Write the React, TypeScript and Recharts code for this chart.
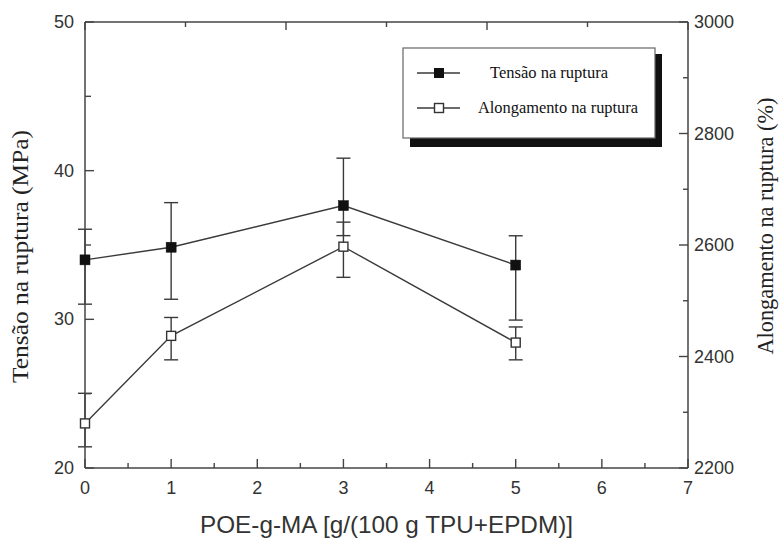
import React from 'react';
import { ComposedChart, Line, XAxis, YAxis, ErrorBar, Customized } from 'recharts';

// ---- data ----
const xValues = [0, 1, 3, 5];
const tensao = [34.0, 34.85, 37.65, 33.65];
const tensaoErr = [[2.98, 2.06], [3.5, 3.0], [2.02, 3.19], [3.7, 1.97]];
const alongamento = [2280, 2437, 2597, 2425];
const alongamentoErr = [[42, 54], [43, 33], [55, 44], [31, 28]];

const xTicks = [0, 0.5, 1, 1.5, 2, 2.5, 3, 3.5, 4, 4.5, 5, 5.5, 6, 6.5, 7];
const xLabelTicks = [0, 1, 2, 3, 4, 5, 6, 7];
const leftTicks = [20, 25, 30, 35, 40, 45, 50];
const leftLabelTicks = [20, 30, 40, 50];
const rightTicks = [2200, 2300, 2400, 2500, 2600, 2700, 2800, 2900, 3000];
const rightLabelTicks = [2200, 2400, 2600, 2800, 3000];

const xTitle = 'POE-g-MA [g/(100 g TPU+EPDM)]';
const leftTitle = 'Tensão na ruptura (MPa)';
const rightTitle = 'Alongamento na ruptura (%)';
const legendNames = ['Tensão na ruptura', 'Alongamento na ruptura'];

const data = xValues.map((x, i) => ({
  x,
  tensao: tensao[i],
  tensaoErr: tensaoErr[i],
  along: alongamento[i],
  alongErr: alongamentoErr[i],
}));

const AXIS = '#444';
const LINE = '#3a3a3a';
const SANS = '"Liberation Sans", Arial, sans-serif';
const SERIF = '"Liberation Serif", "Times New Roman", serif';

const BottomTick = (props: any) => {
  const { x, y, payload } = props;
  const major = xLabelTicks.includes(payload.value);
  return (
    <g>
      <line x1={x} x2={x} y1={y} y2={y - (major ? 9 : 5)} stroke={AXIS} strokeWidth={1.4} />
      {major && (
        <text x={x} y={y + 26} textAnchor="middle" fontFamily={SANS} fontSize={18} fill="#333">
          {payload.value}
        </text>
      )}
    </g>
  );
};

const TopTick = (props: any) => {
  const { x, y, payload } = props;
  const major = xLabelTicks.includes(payload.value);
  return <line x1={x} x2={x} y1={y} y2={y + (major ? 8 : 5)} stroke={AXIS} strokeWidth={1.4} />;
};

const LeftTick = (props: any) => {
  const { x, y, payload } = props;
  const major = leftLabelTicks.includes(payload.value);
  return (
    <g>
      <line x1={x} x2={x + (major ? 9 : 6)} y1={y} y2={y} stroke={AXIS} strokeWidth={1.4} />
      {major && (
        <text x={x - 11} y={y + 6} textAnchor="end" fontFamily={SANS} fontSize={18} fill="#333">
          {payload.value}
        </text>
      )}
    </g>
  );
};

const RightTick = (props: any) => {
  const { x, y, payload } = props;
  const major = rightLabelTicks.includes(payload.value);
  return (
    <g>
      <line x1={x} x2={x - (major ? 9 : 5)} y1={y} y2={y} stroke={AXIS} strokeWidth={1.4} />
      {major && (
        <text x={x + 6} y={y + 6} textAnchor="start" fontFamily={SANS} fontSize={18} fill="#333">
          {payload.value}
        </text>
      )}
    </g>
  );
};

const FilledSquare = (props: any) => {
  const { cx, cy } = props;
  if (cx == null || cy == null) return null;
  return <rect x={cx - 5} y={cy - 5} width={10} height={10} fill="#111" stroke="#111" strokeWidth={0.5} />;
};

const OpenSquare = (props: any) => {
  const { cx, cy } = props;
  if (cx == null || cy == null) return null;
  return <rect x={cx - 4.5} y={cy - 4.5} width={9} height={9} fill="#fff" stroke="#333" strokeWidth={1.4} />;
};

const Decorations = () => (
  <g>
    {/* legend */}
    <rect x={410} y={54} width={252} height={93} fill="#111" />
    <rect x={403} y={48} width={252} height={90} fill="#fff" stroke="#666" strokeWidth={1.2} />
    <line x1={417} x2={460} y1={73} y2={73} stroke={LINE} strokeWidth={1.4} />
    <rect x={434} y={68} width={10} height={10} fill="#111" />
    <text x={490} y={78} fontFamily={SERIF} fontSize={16} fill="#111" textLength={118} lengthAdjust="spacingAndGlyphs">
      {legendNames[0]}
    </text>
    <line x1={417} x2={460} y1={108} y2={108} stroke={LINE} strokeWidth={1.4} />
    <rect x={434.5} y={103.5} width={9} height={9} fill="#fff" stroke="#333" strokeWidth={1.4} />
    <text x={478} y={113} fontFamily={SERIF} fontSize={16} fill="#111" textLength={160} lengthAdjust="spacingAndGlyphs">
      {legendNames[1]}
    </text>
    {/* titles */}
    <text x={386.5} y={533} textAnchor="middle" fontFamily={SANS} fontSize={24} fill="#333" textLength={373} lengthAdjust="spacingAndGlyphs">
      {xTitle}
    </text>
    <text
      transform="translate(28,256.5) rotate(-90)"
      textAnchor="middle"
      fontFamily={SERIF}
      fontSize={23}
      fill="#222"
      textLength={253}
      lengthAdjust="spacingAndGlyphs"
    >
      {leftTitle}
    </text>
    <text
      transform="translate(773,226) rotate(-90)"
      textAnchor="middle"
      fontFamily={SERIF}
      fontSize={23}
      fill="#222"
      textLength={257}
      lengthAdjust="spacingAndGlyphs"
    >
      {rightTitle}
    </text>
  </g>
);

export default function App() {
  return (
    <div style={{ position: 'absolute', left: 0, top: 0, width: 781, height: 538, background: '#fff' }}>
      <ComposedChart width={781} height={538} data={data} margin={{ top: 0, right: 0, bottom: 0, left: 0 }}>
        <XAxis
          xAxisId="bottom"
          dataKey="x"
          type="number"
          domain={[0, 7]}
          ticks={xTicks}
          interval={0}
          height={70}
          tickSize={0}
          tickMargin={0}
          tickLine={false}
          tick={BottomTick}
          axisLine={{ stroke: AXIS, strokeWidth: 1.5 }}
        />
        <XAxis
          xAxisId="top"
          orientation="top"
          type="number"
          domain={[0, 7]}
          ticks={xTicks}
          interval={0}
          height={22}
          tickSize={0}
          tickMargin={0}
          tickLine={false}
          tick={TopTick}
          axisLine={{ stroke: AXIS, strokeWidth: 1.5 }}
        />
        <YAxis
          yAxisId="left"
          orientation="left"
          type="number"
          domain={[20, 50]}
          ticks={leftTicks}
          interval={0}
          width={85}
          tickSize={0}
          tickMargin={0}
          tickLine={false}
          tick={LeftTick}
          axisLine={{ stroke: AXIS, strokeWidth: 1.5 }}
        />
        <YAxis
          yAxisId="right"
          orientation="right"
          type="number"
          domain={[2200, 3000]}
          ticks={rightTicks}
          interval={0}
          width={93}
          tickSize={0}
          tickMargin={0}
          tickLine={false}
          tick={RightTick}
          axisLine={{ stroke: AXIS, strokeWidth: 1.5 }}
        />
        <Line
          xAxisId="bottom"
          yAxisId="left"
          dataKey="tensao"
          stroke={LINE}
          strokeWidth={1.4}
          dot={FilledSquare}
          activeDot={false}
          isAnimationActive={false}
        >
          <ErrorBar dataKey="tensaoErr" direction="y" width={7} stroke={LINE} strokeWidth={1.4} />
        </Line>
        <Line
          xAxisId="bottom"
          yAxisId="right"
          dataKey="along"
          stroke={LINE}
          strokeWidth={1.4}
          dot={OpenSquare}
          activeDot={false}
          isAnimationActive={false}
        >
          <ErrorBar dataKey="alongErr" direction="y" width={7} stroke={LINE} strokeWidth={1.4} />
        </Line>
        <Customized component={Decorations} />
      </ComposedChart>
    </div>
  );
}
